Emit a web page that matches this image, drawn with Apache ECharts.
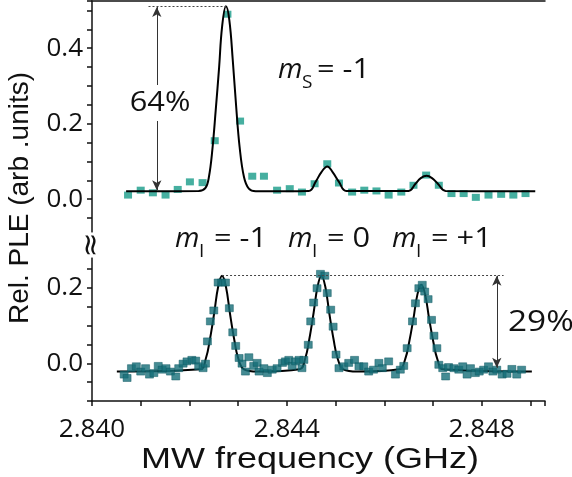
<!DOCTYPE html>
<html>
<head>
<meta charset="utf-8">
<script src="https://cdn.jsdelivr.net/npm/echarts@6/dist/echarts.min.js"></script>
<style>
  html, body { margin: 0; padding: 0; background: #fff; }
  #main { width: 572px; height: 477px; }
</style>
</head>
<body>
<div id="main"></div>
<script>
// top panel (m_S = -1), measured points
var topFreq = [2.84074, 2.84100, 2.84125, 2.84151, 2.84176, 2.84201, 2.84227, 2.84252, 2.84278, 2.84304,
  2.84329, 2.84353, 2.84380, 2.84406, 2.84431, 2.84457, 2.84483, 2.84507, 2.84534, 2.84559,
  2.84584, 2.84609, 2.84635, 2.84660, 2.84686, 2.84712, 2.84738, 2.84763, 2.84788, 2.84814,
  2.84840, 2.84865, 2.84890];
var topPle = [0.011, 0.024, 0.017, 0.011, 0.026, 0.046, 0.044, 0.155, 0.490, 0.207,
  0.061, 0.061, 0.024, 0.028, 0.019, 0.041, 0.094, 0.043, 0.019, 0.024,
  0.022, 0.011, 0.019, 0.037, 0.064, 0.037, 0.015, 0.015, 0.005, 0.011,
  0.013, 0.011, 0.015];
// top fit line
var topFitFreq = [2.84070, 2.84219, 2.84233, 2.84240, 2.84247, 2.84254, 2.84261, 2.84267, 2.84275, 2.84282,
  2.84289, 2.84296, 2.84303, 2.84312, 2.84322, 2.84336,
  2.84445, 2.84459, 2.84471, 2.84483, 2.84494, 2.84507, 2.84522,
  2.84650, 2.84664, 2.84675, 2.84687, 2.84698, 2.84710, 2.84726, 2.84910];
var topFitPle = [0.021, 0.022, 0.030, 0.059, 0.130, 0.236, 0.350, 0.456, 0.511, 0.474,
  0.368, 0.245, 0.139, 0.059, 0.028, 0.021,
  0.022, 0.046, 0.072, 0.087, 0.072, 0.046, 0.022,
  0.022, 0.041, 0.056, 0.062, 0.056, 0.041, 0.022, 0.021];

// bottom panel, measured points
var botFreq = [2.84066, 2.84072, 2.84081, 2.84091, 2.84100, 2.84110, 2.84118, 2.84127, 2.84136, 2.84144,
  2.84152, 2.84161, 2.84172, 2.84178, 2.84187, 2.84195, 2.84205, 2.84213, 2.84219, 2.84228,
  2.84233, 2.84237, 2.84243, 2.84250, 2.84259, 2.84266, 2.84274, 2.84282, 2.84289, 2.84295,
  2.84302, 2.84308, 2.84315, 2.84322, 2.84332, 2.84339, 2.84343, 2.84353, 2.84360, 2.84370,
  2.84380, 2.84391, 2.84397, 2.84404, 2.84411, 2.84418, 2.84425, 2.84431, 2.84435, 2.84444,
  2.84449, 2.84455, 2.84462, 2.84469, 2.84478, 2.84483, 2.84490, 2.84495, 2.84501, 2.84507,
  2.84517, 2.84527, 2.84539, 2.84548, 2.84558, 2.84568, 2.84578, 2.84589, 2.84596, 2.84609,
  2.84623, 2.84633, 2.84640, 2.84647, 2.84658, 2.84664, 2.84671, 2.84678, 2.84683, 2.84690,
  2.84697, 2.84702, 2.84708, 2.84712, 2.84720, 2.84726, 2.84732, 2.84743, 2.84753, 2.84761,
  2.84770, 2.84777, 2.84787, 2.84795, 2.84804, 2.84814, 2.84823, 2.84831, 2.84842, 2.84852,
  2.84862, 2.84872, 2.84882];
var botPle = [-0.030, -0.039, -0.013, -0.008, -0.022, -0.013, -0.030, -0.026, -0.007, -0.017,
  -0.013, -0.022, -0.035, -0.013, -0.001, 0.005, 0.009, 0.007, -0.008, -0.013,
  -0.001, 0.058, 0.111, 0.140, 0.214, 0.214, 0.214, 0.146, 0.082, 0.046,
  0.014, -0.001, -0.022, 0.016, -0.007, 0.001, -0.022, -0.013, -0.026, -0.017,
  -0.013, 0.001, 0.005, 0.009, -0.007, 0.005, 0.009, -0.013, 0.009, 0.049,
  0.111, 0.161, 0.199, 0.237, 0.232, 0.186, 0.142, 0.097, 0.023, -0.013,
  -0.008, 0.001, 0.009, -0.008, -0.008, -0.022, -0.017, 0.001, -0.013, 0.005,
  -0.030, -0.017, -0.007, 0.040, 0.111, 0.159, 0.199, 0.208, 0.190, 0.170,
  0.115, 0.073, 0.040, -0.004, -0.013, -0.035, -0.010, -0.013, -0.017, -0.008,
  -0.030, -0.013, -0.026, -0.022, -0.017, -0.008, -0.022, -0.017, -0.030, -0.028,
  -0.015, -0.030, -0.017];
// bottom fit line
var botFitFreq = [2.84051, 2.84222, 2.84234, 2.84242, 2.84251, 2.84259, 2.84267, 2.84275, 2.84283, 2.84292,
  2.84300, 2.84312, 2.84340,
  2.84426, 2.84438, 2.84446, 2.84455, 2.84463, 2.84471, 2.84479, 2.84487, 2.84496, 2.84504, 2.84516, 2.84545,
  2.84631, 2.84643, 2.84651, 2.84660, 2.84668, 2.84676, 2.84684, 2.84692, 2.84701, 2.84709, 2.84721, 2.84903];
var botFitPle = [-0.022, -0.016, 0.014, 0.063, 0.134, 0.203, 0.232, 0.203, 0.134, 0.063,
  0.014, -0.016, -0.022,
  -0.016, 0.014, 0.063, 0.134, 0.203, 0.232, 0.203, 0.134, 0.063, 0.014, -0.016, -0.022,
  -0.016, 0.011, 0.055, 0.119, 0.182, 0.208, 0.182, 0.119, 0.055, 0.011, -0.016, -0.022];

var xTickLabels = ['2.840', '2.844', '2.848'];
var yTickLabels = ['0.0', '0.2', '0.4'];

function zip(a, b) {
  return a.map(function (v, i) { return [v, b[i]]; });
}

var numFont = 'Open Sans';
var titleFont = 'Liberation Sans';

function yLabel(v) {
  var s = v.toFixed(1);
  var k = Math.round(v * 100);
  if (Math.abs(v * 100 - k) > 1e-6) return '';
  return yTickLabels.indexOf(s) >= 0 ? s : '';
}
function xLabel(v) {
  var s = v.toFixed(3);
  var k = (v - 2.84) * 1000;
  if (Math.abs(k - Math.round(k)) > 1e-6) return '';
  return xTickLabels.indexOf(s) >= 0 ? s : '';
}

var axisLine = { show: true, onZero: false, lineStyle: { color: '#111', width: 1.5 } };
var tick = { show: true, length: 5, lineStyle: { color: '#111', width: 1.5 } };

// text pieces for "m_X = ..." labels
function quantumLabel(x, y, sub, rest) {
  return {
    type: 'group', x: x, y: y, z: 100,
    children: [
      { type: 'text', x: 0, y: 0, style: { text: 'm', fontFamily: numFont, fontSize: 28, fontStyle: 'italic', fill: '#111', textVerticalAlign: 'bottom', verticalAlign: 'bottom' } },
      { type: 'text', x: 24, y: 8, style: { text: sub, fontFamily: numFont, fontSize: 19, fill: '#111', textVerticalAlign: 'bottom', verticalAlign: 'bottom' } },
      { type: 'text', x: 39, y: 0, scaleX: 1.1, style: { text: rest, fontFamily: numFont, fontSize: 28, fill: '#111', textVerticalAlign: 'bottom', verticalAlign: 'bottom' } }
    ]
  };
}

var chart = echarts.init(document.getElementById('main'));
var option = {
  backgroundColor: '#fff',
  animation: false,
  grid: [
    { left: 92, right: 27, top: 1, height: 236 },
    { left: 92, right: 27, top: 255, height: 146 }
  ],
  xAxis: [
    {
      gridIndex: 0, type: 'value', min: 2.840, max: 2.8493, position: 'top',
      axisLine: axisLine, axisTick: { show: false }, axisLabel: { show: false }, splitLine: { show: false }
    },
    {
      gridIndex: 1, type: 'value', min: 2.840, max: 2.8493, interval: 0.001, position: 'bottom',
      axisLine: axisLine,
      axisTick: tick,
      axisLabel: { formatter: xLabel, fontFamily: numFont, fontSize: 26, color: '#111', margin: 16,
        alignMinLabel: 'center', alignMaxLabel: 'center' },
      splitLine: { show: false }
    }
  ],
  yAxis: [
    {
      gridIndex: 0, type: 'value', min: -0.1, max: 0.525, interval: 0.05,
      axisLine: axisLine,
      axisTick: tick,
      axisLabel: { formatter: yLabel, fontFamily: numFont, fontSize: 26, color: '#111', margin: 9 },
      splitLine: { show: false }
    },
    {
      gridIndex: 1, type: 'value', min: -0.1, max: 0.287, interval: 0.05,
      axisLine: axisLine,
      axisTick: tick,
      axisLabel: { formatter: yLabel, fontFamily: numFont, fontSize: 26, color: '#111', margin: 9 },
      splitLine: { show: false }
    }
  ],
  series: [
    {
      type: 'line', xAxisIndex: 0, yAxisIndex: 0, data: zip(topFitFreq, topFitPle),
      showSymbol: false, smooth: 0.4, z: 3,
      lineStyle: { color: '#000', width: 2 },
      markLine: {
        silent: true, symbol: 'none', label: { show: false },
        data: [
          [{ coord: [2.84116, 0.512], lineStyle: { type: [2, 2], color: '#444', width: 1 } }, { coord: [2.84275, 0.512] }],
          [{ coord: [2.84133, 0.024], symbol: 'arrow', symbolSize: [7, 10], lineStyle: { type: 'solid', color: '#333', width: 1 } },
           { coord: [2.84133, 0.509], symbol: 'arrow', symbolSize: [7, 10] }]
        ]
      }
    },
    {
      type: 'scatter', xAxisIndex: 0, yAxisIndex: 0, data: zip(topFreq, topPle),
      symbol: 'rect', symbolSize: [8, 7], z: 2,
      itemStyle: { color: '#189b88' }
    },
    {
      type: 'line', xAxisIndex: 1, yAxisIndex: 1, data: zip(botFitFreq, botFitPle),
      showSymbol: false, smooth: 0.4, z: 2,
      lineStyle: { color: '#000', width: 2 },
      markLine: {
        silent: true, symbol: 'none', label: { show: false },
        data: [
          [{ coord: [2.84267, 0.232], lineStyle: { type: [2, 2], color: '#444', width: 1 } }, { coord: [2.84845, 0.232] }],
          [{ coord: [2.84831, 0.232], symbol: 'arrow', symbolSize: [7, 10], lineStyle: { type: 'solid', color: '#333', width: 1 } },
           { coord: [2.84831, -0.012], symbol: 'arrow', symbolSize: [7, 10] }]
        ]
      }
    },
    {
      type: 'scatter', xAxisIndex: 1, yAxisIndex: 1, data: zip(botFreq, botPle),
      symbol: 'rect', symbolSize: [8, 7], z: 3,
      itemStyle: { color: '#156e78', borderColor: '#0e5960', borderWidth: 0.6 }
    }
  ],
  graphic: [
    { type: 'text', x: 160, y: 103, z: 100, scaleX: 1.1, style: { text: '64%', fontFamily: numFont, fontSize: 28, fill: '#111', backgroundColor: '#fff', padding: [4, 0], textAlign: 'center', textVerticalAlign: 'middle', align: 'center', verticalAlign: 'middle' } },
    { type: 'text', x: 508, y: 323, z: 100, scaleX: 1.15, style: { text: '29%', fontFamily: numFont, fontSize: 29, fill: '#111', textAlign: 'left', textVerticalAlign: 'middle', align: 'left', verticalAlign: 'middle' } },
    quantumLabel(278, 84, 'S', '= -1'),
    quantumLabel(175, 253, 'I', '= -1'),
    quantumLabel(288, 253, 'I', '= 0'),
    quantumLabel(392, 253, 'I', '= +1'),
    { type: 'text', x: 92, y: 245, z: 100, rotation: Math.PI / 2, style: { text: '≈', fontFamily: 'DejaVu Sans', fontSize: 30, fill: '#111', backgroundColor: '#fff', textAlign: 'center', textVerticalAlign: 'middle', align: 'center', verticalAlign: 'middle' } },
    { type: 'text', x: 20, y: 198, z: 100, rotation: Math.PI / 2, style: { text: 'Rel. PLE (arb .units)', fontFamily: titleFont, fontSize: 28, fill: '#111', textAlign: 'center', textVerticalAlign: 'middle', align: 'center', verticalAlign: 'middle' } },
    { type: 'text', x: 310, y: 460, z: 100, scaleX: 1.2, style: { text: 'MW frequency (GHz)', fontFamily: titleFont, fontSize: 30, fill: '#111', textAlign: 'center', textVerticalAlign: 'middle', align: 'center', verticalAlign: 'middle' } }
  ]
};
chart.setOption(option);
</script>
</body>
</html>
